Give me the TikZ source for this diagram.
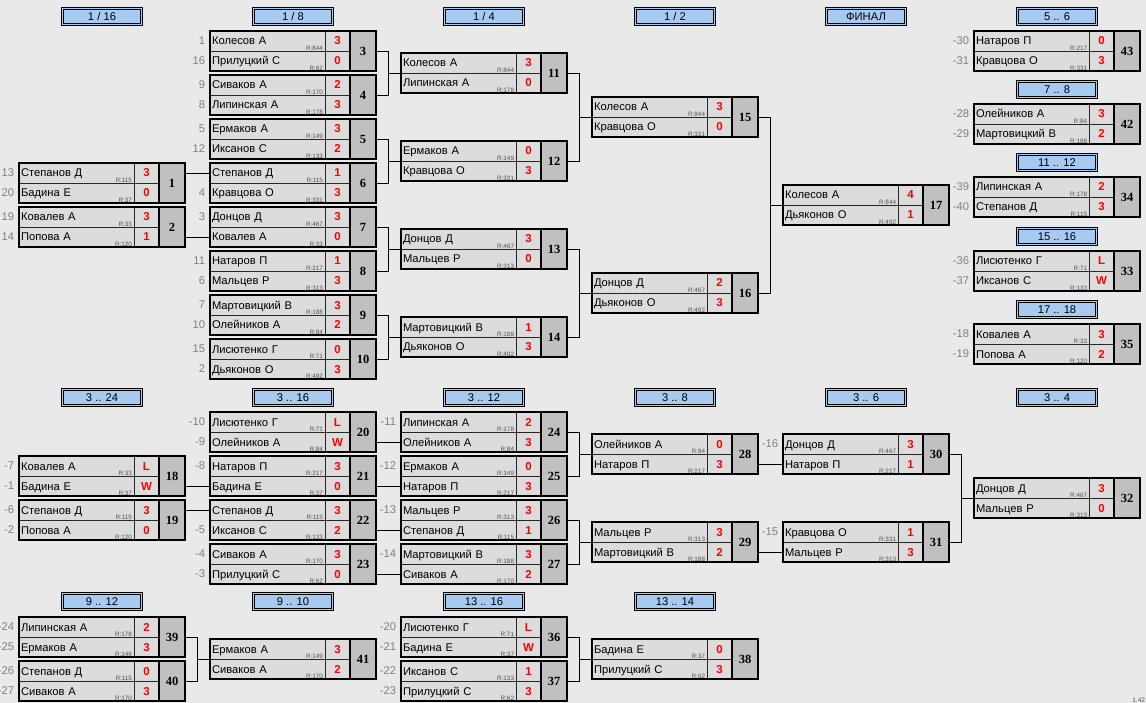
\documentclass[tikz,border=0pt]{standalone}
\usepackage{fontspec}
\setmainfont{Liberation Sans}
\newfontfamily\serifnum{Liberation Serif}
\usetikzlibrary{positioning,calc}
\definecolor{bgcol}{HTML}{E9E9E9}
\definecolor{namegrey}{HTML}{DCDCDC}
\definecolor{numgrey}{HTML}{C0C0C0}
\definecolor{hdrblue}{HTML}{A6CAF0}
\definecolor{scorered}{HTML}{FF0000}
\definecolor{seedgrey}{HTML}{808080}
\definecolor{ratinggrey}{HTML}{505050}
\newcommand\namefont{\fontsize{11.2}{12}\selectfont}
\newcommand\scorefont{\bfseries\fontsize{11.5}{12}\selectfont}
\newcommand\ratingfont{\fontsize{6.3}{7}\selectfont}
\newcommand\numfont{\serifnum\bfseries\fontsize{12.5}{13}\selectfont}
\newcommand\match[9]{%
  \node[namecell] (m#1a) at (#2,#3) {#4};
  \node[namecell] (m#1b) at (m#1a.south west) {#7};
  \node[rating] (r#1a) at (m#1a.south east) {R:#5};
  \node[rating] (r#1b) at (m#1b.south east) {R:#8};
  \node[scorecell] (m#1as) at (m#1a.north east) {#6};
  \node[scorecell] (m#1bs) at (m#1b.north east) {#9};
  \node[numcell] (m#1) at (m#1as.north east) {#1};
  \draw[cellline] (m#1a.south west) -- (m#1bs.north east);
  \draw[cellline] (m#1as.north west) -- (m#1bs.south west);
  \draw[numline] (m#1.north west) -- (m#1.south west);
  \draw[boxline] (m#1a.north west) rectangle (m#1.south east);
}
\newcommand\seed[2]{\node[seed, left=4pt of #1] (s#1) {#2};}
\newcommand\feed[2]{\draw[link] (m#1.east |- #2.west) -- (#2.west);}
\newcommand\bracket[3]{%
  \coordinate (j#3) at ($(m#3a.south west)+(-12.5,0)$);
  \draw[link] (m#1.east) -| (j#3) |- (m#2.east);
  \draw[link] (j#3) -- (m#3a.south west);
}
\newcommand\stage[4]{\node[header] (h#1) at (#2,#3) {#4};}
\begin{document}
\begin{tikzpicture}[x=1pt,y=-1pt,
  every node/.append style={outer sep=0pt},
  namecell/.style={anchor=north west, fill=namegrey, text width=111pt, inner xsep=2pt,
    inner ysep=0pt, minimum height=20pt, text height=8pt, text depth=0pt, align=left, font=\namefont},
  rating/.style={anchor=south east, inner xsep=2pt, inner ysep=0.6pt, font=\ratingfont, text=ratinggrey},
  scorecell/.style={anchor=north west, fill=namegrey, minimum width=25pt, minimum height=20pt,
    inner sep=0pt, text height=8pt, text depth=0pt, font=\scorefont, text=scorered},
  numcell/.style={anchor=north west, fill=numgrey, minimum width=26pt, minimum height=40pt,
    inner sep=0pt, font=\numfont},
  cellline/.style={line width=0.8pt, black!85},
  numline/.style={line width=1.4pt, black},
  boxline/.style={line width=1.8pt, black},
  link/.style={line width=0.9pt, black},
  seed/.style={inner sep=1pt, text=seedgrey, font=\namefont},
  header/.style={anchor=north, fill=hdrblue, draw=black, double=hdrblue, double distance=1.6pt,
    line width=0.7pt, minimum width=79pt, minimum height=16pt, inner sep=0pt, font=\namefont}]
\fill[bgcol] (0,0) rectangle (1146,703);
\useasboundingbox (0,0) rectangle (1146,703);

\stage{1}{102}{8.5}{1 / 16}
\stage{2}{293}{8.5}{1 / 8}
\stage{3}{484}{8.5}{1 / 4}
\stage{4}{675}{8.5}{1 / 2}
\stage{5}{866}{8.5}{ФИНАЛ}
\stage{6}{1057}{8.5}{5 .. 6}
\stage{7}{1057}{81.5}{7 .. 8}
\stage{8}{1057}{154.5}{11 .. 12}
\stage{9}{1057}{228.5}{15 .. 16}
\stage{10}{1057}{301.5}{17 .. 18}
\stage{11}{102}{389.5}{3 .. 24}
\stage{12}{293}{389.5}{3 .. 16}
\stage{13}{484}{389.5}{3 .. 12}
\stage{14}{675}{389.5}{3 .. 8}
\stage{15}{866}{389.5}{3 .. 6}
\stage{16}{1057}{389.5}{3 .. 4}
\stage{17}{102}{593.5}{9 .. 12}
\stage{18}{293}{593.5}{9 .. 10}
\stage{19}{484}{593.5}{13 .. 16}
\stage{20}{675}{593.5}{13 .. 14}

\match{1}{19}{163}{Степанов Д}{115}{3}{Бадина Е}{37}{0}
\match{2}{19}{207}{Ковалев А}{33}{3}{Попова А}{120}{1}
\match{3}{210}{31}{Колесов А}{844}{3}{Прилуцкий С}{62}{0}
\match{4}{210}{75}{Сиваков А}{170}{2}{Липинская А}{178}{3}
\match{5}{210}{119}{Ермаков А}{149}{3}{Иксанов С}{133}{2}
\match{6}{210}{163}{Степанов Д}{115}{1}{Кравцова О}{331}{3}
\match{7}{210}{207}{Донцов Д}{467}{3}{Ковалев А}{33}{0}
\match{8}{210}{251}{Натаров П}{217}{1}{Мальцев Р}{313}{3}
\match{9}{210}{295}{Мартовицкий В}{188}{3}{Олейников А}{84}{2}
\match{10}{210}{339}{Лисютенко Г}{71}{0}{Дьяконов О}{492}{3}
\match{11}{401}{53}{Колесов А}{844}{3}{Липинская А}{178}{0}
\match{12}{401}{141}{Ермаков А}{149}{0}{Кравцова О}{331}{3}
\match{13}{401}{229}{Донцов Д}{467}{3}{Мальцев Р}{313}{0}
\match{14}{401}{317}{Мартовицкий В}{188}{1}{Дьяконов О}{492}{3}
\match{15}{592}{97}{Колесов А}{844}{3}{Кравцова О}{331}{0}
\match{16}{592}{273}{Донцов Д}{467}{2}{Дьяконов О}{492}{3}
\match{17}{783}{185}{Колесов А}{844}{4}{Дьяконов О}{492}{1}
\match{43}{974}{31}{Натаров П}{217}{0}{Кравцова О}{331}{3}
\match{42}{974}{104}{Олейников А}{84}{3}{Мартовицкий В}{188}{2}
\match{34}{974}{177}{Липинская А}{178}{2}{Степанов Д}{115}{3}
\match{33}{974}{251}{Лисютенко Г}{71}{L}{Иксанов С}{133}{W}
\match{35}{974}{324}{Ковалев А}{33}{3}{Попова А}{120}{2}

\match{18}{19}{456}{Ковалев А}{33}{L}{Бадина Е}{37}{W}
\match{19}{19}{500}{Степанов Д}{115}{3}{Попова А}{120}{0}
\match{20}{210}{412}{Лисютенко Г}{71}{L}{Олейников А}{84}{W}
\match{21}{210}{456}{Натаров П}{217}{3}{Бадина Е}{37}{0}
\match{22}{210}{500}{Степанов Д}{115}{3}{Иксанов С}{133}{2}
\match{23}{210}{544}{Сиваков А}{170}{3}{Прилуцкий С}{62}{0}
\match{24}{401}{412}{Липинская А}{178}{2}{Олейников А}{84}{3}
\match{25}{401}{456}{Ермаков А}{149}{0}{Натаров П}{217}{3}
\match{26}{401}{500}{Мальцев Р}{313}{3}{Степанов Д}{115}{1}
\match{27}{401}{544}{Мартовицкий В}{188}{3}{Сиваков А}{170}{2}
\match{28}{592}{434}{Олейников А}{84}{0}{Натаров П}{217}{3}
\match{29}{592}{522}{Мальцев Р}{313}{3}{Мартовицкий В}{188}{2}
\match{30}{783}{434}{Донцов Д}{467}{3}{Натаров П}{217}{1}
\match{31}{783}{522}{Кравцова О}{331}{1}{Мальцев Р}{313}{3}
\match{32}{974}{478}{Донцов Д}{467}{3}{Мальцев Р}{313}{0}

\match{39}{19}{617}{Липинская А}{178}{2}{Ермаков А}{149}{3}
\match{40}{19}{661}{Степанов Д}{115}{0}{Сиваков А}{170}{3}
\match{41}{210}{639}{Ермаков А}{149}{3}{Сиваков А}{170}{2}
\match{36}{401}{617}{Лисютенко Г}{71}{L}{Бадина Е}{37}{W}
\match{37}{401}{661}{Иксанов С}{133}{1}{Прилуцкий С}{62}{3}
\match{38}{592}{639}{Бадина Е}{37}{0}{Прилуцкий С}{62}{3}

\seed{m1a}{13} \seed{m1b}{20} \seed{m2a}{19} \seed{m2b}{14}
\seed{m3a}{1} \seed{m3b}{16} \seed{m4a}{9} \seed{m4b}{8}
\seed{m5a}{5} \seed{m5b}{12} \seed{m6b}{4} \seed{m7a}{3}
\seed{m8a}{11} \seed{m8b}{6} \seed{m9a}{7} \seed{m9b}{10}
\seed{m10a}{15} \seed{m10b}{2}
\seed{m43a}{-30} \seed{m43b}{-31} \seed{m42a}{-28} \seed{m42b}{-29}
\seed{m34a}{-39} \seed{m34b}{-40} \seed{m33a}{-36} \seed{m33b}{-37}
\seed{m35a}{-18} \seed{m35b}{-19}
\seed{m18a}{-7} \seed{m18b}{-1} \seed{m19a}{-6} \seed{m19b}{-2}
\seed{m20a}{-10} \seed{m20b}{-9} \seed{m21a}{-8} \seed{m22b}{-5}
\seed{m23a}{-4} \seed{m23b}{-3}
\seed{m24a}{-11} \seed{m25a}{-12} \seed{m26a}{-13} \seed{m27a}{-14}
\seed{m30a}{-16} \seed{m31a}{-15}
\seed{m39a}{-24} \seed{m39b}{-25} \seed{m40a}{-26} \seed{m40b}{-27}
\seed{m36a}{-20} \seed{m36b}{-21} \seed{m37a}{-22} \seed{m37b}{-23}

\feed{1}{m6a}
\feed{2}{m7b}
\bracket{3}{4}{11}
\bracket{5}{6}{12}
\bracket{7}{8}{13}
\bracket{9}{10}{14}
\bracket{11}{12}{15}
\bracket{13}{14}{16}
\bracket{15}{16}{17}
\feed{18}{m21b}
\feed{19}{m22a}
\feed{20}{m24b}
\feed{21}{m25b}
\feed{22}{m26b}
\feed{23}{m27b}
\bracket{24}{25}{28}
\bracket{26}{27}{29}
\feed{28}{m30b}
\feed{29}{m31b}
\bracket{30}{31}{32}
\bracket{39}{40}{41}
\bracket{36}{37}{38}

\node[anchor=south east, inner sep=1pt, font=\fontsize{6.5}{7}\selectfont, text=ratinggrey] (ver) at (1146,703) {1.42};
\end{tikzpicture}
\end{document}
